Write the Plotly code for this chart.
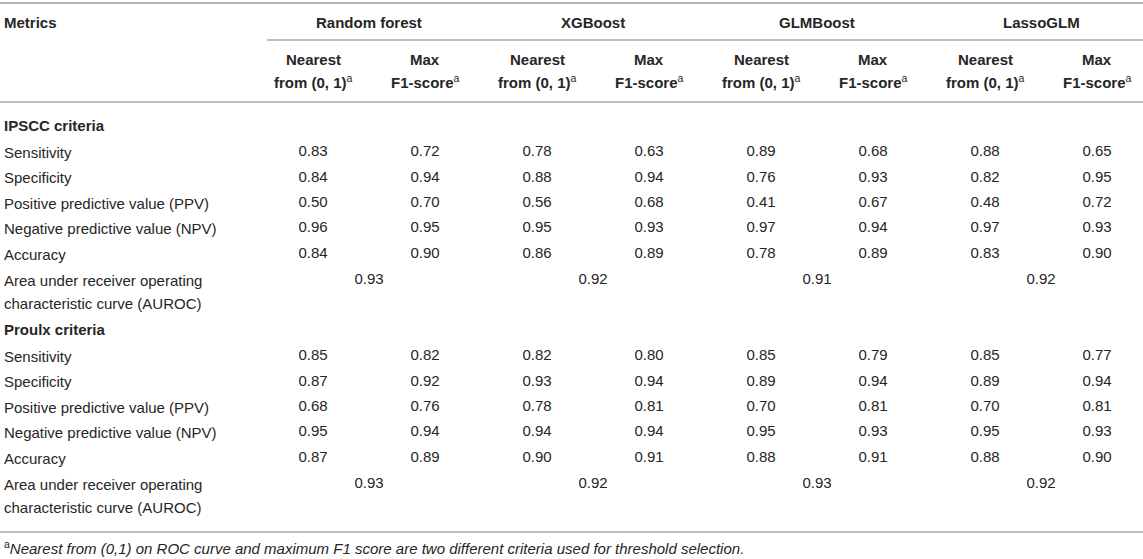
import plotly.graph_objects as go

# ---------------- data ----------------
models = ["Random forest", "XGBoost", "GLMBoost", "LassoGLM"]
criteria = ["Nearest<br>from (0, 1)<sup>a</sup>", "Max<br>F1-score<sup>a</sup>"]
metric_labels = ["Sensitivity", "Specificity", "Positive predictive value (PPV)",
                 "Negative predictive value (NPV)", "Accuracy"]
auroc_label = ["Area under receiver operating", "characteristic curve (AUROC)"]
sections = ["IPSCC criteria", "Proulx criteria"]

# columns: RF nearest, RF maxF1, XGB nearest, XGB maxF1, GLMB nearest, GLMB maxF1, Lasso nearest, Lasso maxF1
ipscc_sensitivity = [0.83, 0.72, 0.78, 0.63, 0.89, 0.68, 0.88, 0.65]
ipscc_specificity = [0.84, 0.94, 0.88, 0.94, 0.76, 0.93, 0.82, 0.95]
ipscc_ppv = [0.50, 0.70, 0.56, 0.68, 0.41, 0.67, 0.48, 0.72]
ipscc_npv = [0.96, 0.95, 0.95, 0.93, 0.97, 0.94, 0.97, 0.93]
ipscc_accuracy = [0.84, 0.90, 0.86, 0.89, 0.78, 0.89, 0.83, 0.90]
ipscc_auroc = [0.93, 0.92, 0.91, 0.92]

proulx_sensitivity = [0.85, 0.82, 0.82, 0.80, 0.85, 0.79, 0.85, 0.77]
proulx_specificity = [0.87, 0.92, 0.93, 0.94, 0.89, 0.94, 0.89, 0.94]
proulx_ppv = [0.68, 0.76, 0.78, 0.81, 0.70, 0.81, 0.70, 0.81]
proulx_npv = [0.95, 0.94, 0.94, 0.94, 0.95, 0.93, 0.95, 0.93]
proulx_accuracy = [0.87, 0.89, 0.90, 0.91, 0.88, 0.91, 0.88, 0.90]
proulx_auroc = [0.93, 0.92, 0.93, 0.92]

footnote = ("<sup>a</sup><i>Nearest from (0,1) on ROC curve and maximum F1 score are two "
            "different criteria used for threshold selection.</i>")

# ---------------- layout constants ----------------
W, H = 1143, 559
FONT = "Liberation Sans, Arial, Helvetica, sans-serif"
FS = 15
TXT = "#262626"
LINE = "#a8a8a8"
COL0, COLSTEP = 313, 112
LABEL_X = 2
ROW_STEP = 25.4

def col_x(i):
    return COL0 + i * COLSTEP

def group_x(g):
    return COL0 + (2 * g + 0.5) * COLSTEP

sec_blocks = [
    (sections[0], [ipscc_sensitivity, ipscc_specificity, ipscc_ppv, ipscc_npv, ipscc_accuracy], ipscc_auroc, 125.5),
    (sections[1], [proulx_sensitivity, proulx_specificity, proulx_ppv, proulx_npv, proulx_accuracy], proulx_auroc, 329.5),
]

fig = go.Figure()
annotations = []

def ann(x, y, text, size=FS, bold=False, xanchor="left"):
    annotations.append(dict(
        x=x, y=y, xref="x", yref="y", text=text, showarrow=False,
        xanchor=xanchor, yanchor="middle", align="center" if xanchor == "center" else "left",
        font=dict(family=FONT, size=size, color=TXT, weight="bold" if bold else "normal"),
    ))

# header
ann(LABEL_X, 22, "Metrics", bold=True)
for g, m in enumerate(models):
    ann(group_x(g), 22, m, bold=True, xanchor="center")
for i in range(8):
    top, bottom = criteria[i % 2].split("<br>")
    bottom = bottom.replace("<sup>a</sup>", "<span style='font-weight:normal'><sup>a</sup></span>")
    ann(col_x(i), 59.5, top, bold=True, xanchor="center")
    ann(col_x(i), 81.5, bottom, bold=True, xanchor="center")

for name, rows, auroc, y0 in sec_blocks:
    ann(LABEL_X, y0, name, bold=True)
    xs, ys, ts = [], [], []
    for r, (lab, vals) in enumerate(zip(metric_labels, rows)):
        yy = y0 + (r + 1) * ROW_STEP + 1.5
        ann(LABEL_X, yy, lab)
        for i, v in enumerate(vals):
            xs.append(col_x(i)); ys.append(yy); ts.append(f"{v:.2f}")
    ya = y0 + 6 * ROW_STEP + 2.5
    ann(LABEL_X, ya, auroc_label[0])
    ann(LABEL_X, ya + 23, auroc_label[1])
    for g, v in enumerate(auroc):
        xs.append(group_x(g)); ys.append(ya); ts.append(f"{v:.2f}")
    fig.add_trace(go.Scatter(
        x=xs, y=ys, text=ts, mode="text", textposition="middle center",
        textfont=dict(family=FONT, size=FS, color=TXT), hoverinfo="skip", showlegend=False,
    ))

ann(LABEL_X, 547, footnote, size=15)

shapes = [
    dict(type="line", xref="x", yref="y", x0=0, x1=W, y0=3, y1=3, line=dict(color="#b5b5b5", width=2.2)),
    dict(type="line", xref="x", yref="y", x0=267, x1=W, y0=40, y1=40, line=dict(color=LINE, width=1.5)),
    dict(type="line", xref="x", yref="y", x0=0, x1=W, y0=102, y1=102, line=dict(color=LINE, width=1.5)),
    dict(type="line", xref="x", yref="y", x0=0, x1=W, y0=532, y1=532, line=dict(color=LINE, width=1.5)),
]

fig.update_layout(
    width=W, height=H, margin=dict(l=0, r=0, t=0, b=0),
    paper_bgcolor="white", plot_bgcolor="white",
    xaxis=dict(range=[0, W], visible=False, fixedrange=True),
    yaxis=dict(range=[H, 0], visible=False, fixedrange=True),
    annotations=annotations, shapes=shapes, showlegend=False,
)

fig.write_html("out.html", config={"displayModeBar": False},
               post_script="document.body.style.margin='0';document.body.style.overflow='hidden';")
